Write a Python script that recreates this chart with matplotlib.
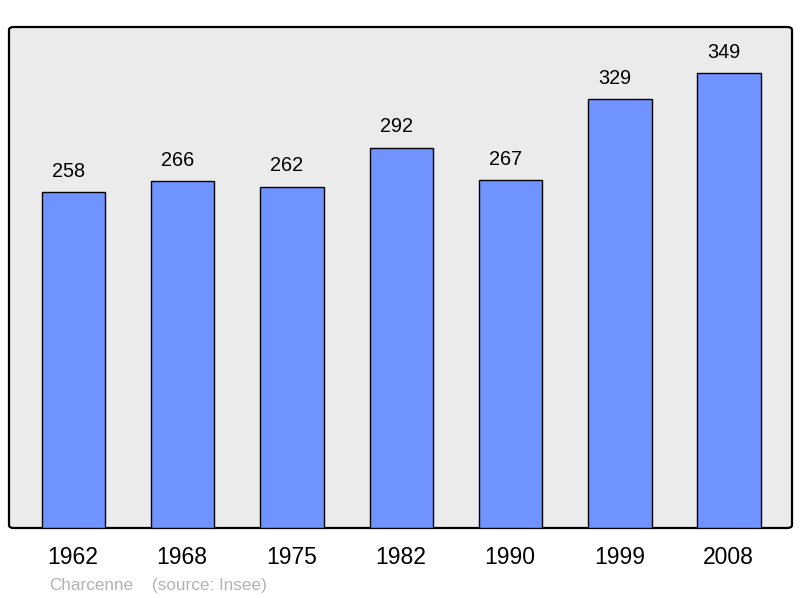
import matplotlib
matplotlib.use("Agg")
from matplotlib import pyplot as plt
from matplotlib.patches import FancyBboxPatch
import matplotlib.transforms as mtransforms

years = ["1962", "1968", "1975", "1982", "1990", "1999", "2008"]
population = [258, 266, 262, 292, 267, 329, 349]
commune = "Charcenne"
source = "(source: Insee)"

plt.rcParams['font.family'] = ['Liberation Sans', 'DejaVu Sans']

fig = plt.figure(figsize=(8, 5.98), dpi=100)
ax = fig.add_axes([9 / 800, 70 / 598, 783 / 800, 501 / 598])
ax.set_facecolor('none')
for s in ax.spines.values():
    s.set_visible(False)

# rounded frame with grey background
frame = FancyBboxPatch((0, 0), 1, 1, boxstyle="round,pad=0,rounding_size=0.006",
                       transform=ax.transAxes, facecolor='#ebebeb',
                       edgecolor='black', linewidth=1.6, zorder=0, clip_on=False)
ax.add_patch(frame)

x = range(len(years))
ax.bar(x, population, width=0.58, color='#7094ff', edgecolor='black',
       linewidth=1.0, zorder=2)

for i, v in enumerate(population):
    ax.annotate(str(v), (i, v), xytext=(-3.6, 11), textcoords='offset points',
                ha='center', va='baseline', fontsize=14.3, color='black')

trans = mtransforms.blended_transform_factory(ax.transData, ax.transAxes)
for i, y in enumerate(years):
    ax.text(i - 0.005, -36 / 501, y, transform=trans, ha='center', va='baseline',
            fontsize=16.5, color='black')

ax.set_xlim(-0.59, 6.575)
ax.set_ylim(0, 384.5)
ax.set_xticks([])
ax.set_yticks([])

fig.text(49 / 800, 8 / 598, commune, fontsize=12.3, color='#b3b3b3', va='baseline')
fig.text(152 / 800, 8 / 598, source, fontsize=12.3, color='#b3b3b3', va='baseline')

fig.savefig('out.png', dpi=100)
